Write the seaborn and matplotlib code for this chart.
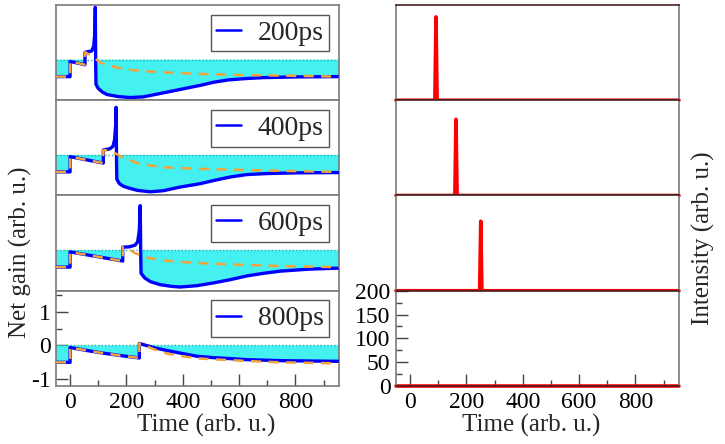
import matplotlib
matplotlib.use("Agg")
import matplotlib.pyplot as plt
from matplotlib.ticker import MultipleLocator
import numpy as np
import pandas as pd
import seaborn as sns

# ── data ──
LABELS = ["200ps", "400ps", "600ps", "800ps"]

# net gain (blue), one list per panel
GAIN_T = [
    [-50, 0, 0, 53, 53, 77, 84, 88, 89.5, 91, 92, 100, 115, 131, 170, 213, 260, 320, 391, 462, 508, 560, 620, 686, 800, 955],
    [-50, 0, 0, 118, 118, 140, 152, 158, 162, 163.5, 165, 166, 175, 190, 213, 240, 284, 330, 391, 462, 508, 570, 628, 700, 800, 955],
    [-50, 0, 0, 187, 187, 210, 231, 240, 246, 249, 251, 252, 265, 285, 320, 360, 391, 450, 508, 570, 628, 690, 746, 850, 955],
    [-50, 0, 0, 60, 120, 180, 246, 246, 300, 344, 400, 451, 508, 570, 628, 750, 955],
]
GAIN_G = [
    [-0.5, -0.5, -0.05, -0.15, 0.22, 0.26, 0.4, 0.8, 1.55, -0.2, -0.73, -0.85, -0.96, -1.03, -1.09, -1.12, -1.1, -1.0, -0.88, -0.76, -0.67, -0.6, -0.56, -0.53, -0.51, -0.5],
    [-0.5, -0.5, -0.05, -0.24, 0.15, 0.18, 0.25, 0.45, 0.9, 1.41, -0.2, -0.72, -0.85, -0.93, -0.99, -1.05, -1.09, -1.06, -0.95, -0.85, -0.76, -0.65, -0.58, -0.55, -0.53, -0.52],
    [-0.5, -0.5, -0.05, -0.32, 0.09, 0.1, 0.15, 0.25, 0.6, 1.32, -0.2, -0.68, -0.82, -0.93, -1.02, -1.07, -1.09, -1.05, -0.97, -0.87, -0.76, -0.68, -0.62, -0.56, -0.53],
    [-0.5, -0.5, -0.06, -0.15, -0.23, -0.3, -0.37, 0.06, -0.07, -0.15, -0.24, -0.32, -0.36, -0.39, -0.42, -0.45, -0.47],
]

# gain without the pulse (orange dashed)
BASE_T = [
    [-50, 0, 0, 53, 53, 70, 90, 107, 140, 178, 238, 320, 451, 600, 750, 955],
    [-50, 0, 0, 118, 118, 140, 160, 185, 210, 238, 290, 344, 451, 600, 750, 955],
    [-50, 0, 0, 187, 187, 210, 231, 255, 284, 355, 451, 600, 750, 955],
    [-50, 0, 0, 60, 120, 180, 246, 246, 300, 344, 400, 451, 508, 628, 750, 955],
]
BASE_G = [
    [-0.5, -0.5, -0.05, -0.15, 0.22, 0.15, 0.03, -0.08, -0.18, -0.25, -0.32, -0.37, -0.42, -0.45, -0.47, -0.5],
    [-0.5, -0.5, -0.05, -0.24, 0.15, 0.12, 0.05, -0.06, -0.15, -0.24, -0.32, -0.37, -0.41, -0.44, -0.47, -0.5],
    [-0.5, -0.5, -0.05, -0.32, 0.09, 0.03, -0.09, -0.16, -0.24, -0.32, -0.38, -0.43, -0.47, -0.5],
    [-0.5, -0.5, -0.06, -0.15, -0.23, -0.3, -0.37, 0.06, -0.12, -0.24, -0.32, -0.38, -0.41, -0.46, -0.5, -0.53],
]

# output pulses (right column): centre time and peak intensity, None = no pulse
PULSE_T = [92, 163, 251, None]
PULSE_I = [175, 160, 146, None]
PULSE_HALF_WIDTH = 4
T_START, T_END = -50, 955

BLUE = "#0000FF"
ORANGE = "#F2A33A"
CYAN = "#44F0F0"
RED = "#FF0000"
SPINE = "#7a7a7a"
FONT = "Liberation Serif"

sns.set_theme(style="ticks", font="serif",
              rc={"font.serif": [FONT, "DejaVu Serif"], "axes.unicode_minus": False})
plt.rcParams["font.family"] = [FONT, "DejaVu Serif"]

W, H = 725, 444
fig = plt.figure(figsize=(W / 100, H / 100), dpi=100)

top_px, panel_px = 5, 95.25
lx, rx, aw = 56 / W, 396 / W, 283 / W
ph = panel_px / H


def style_axes(ax, bottom):
    for s in ax.spines.values():
        s.set_color(SPINE)
        s.set_linewidth(1.2)
    ax.set_xlim(T_START, T_END)
    ax.xaxis.set_major_locator(MultipleLocator(200))
    ax.xaxis.set_minor_locator(MultipleLocator(100))
    ax.tick_params(which="both", direction="in", colors="#444444", labelsize=17,
                   top=False, right=False, pad=4)
    ax.tick_params(which="major", length=8.5, width=1)
    ax.tick_params(which="minor", length=4.5, width=1)
    if not bottom:
        ax.tick_params(which="both", bottom=False, left=False,
                       labelbottom=False, labelleft=False)
    ax.tick_params(labelcolor="black")
    for lbl in ax.get_xticklabels() + ax.get_yticklabels():
        lbl.set_fontfamily(FONT)


for i in range(4):
    y0 = 1 - (top_px + panel_px * (i + 1)) / H
    bottom = i == 3

    # ── left: net gain ──
    ax = fig.add_axes([lx, y0, aw, ph])
    t = np.array(GAIN_T[i], dtype=float)
    g = np.array(GAIN_G[i], dtype=float)
    ax.fill_between(t, g, 0, where=g < 0, interpolate=True, color=CYAN, lw=0, zorder=1)
    ax.axhline(0, color="#19b5b5", ls=(0, (1, 1.5)), lw=1, zorder=1.5)
    sns.lineplot(x=t, y=g, ax=ax, sort=False, estimator=None, color=BLUE, lw=2.4,
                 label=LABELS[i], zorder=3)
    sns.lineplot(x=BASE_T[i], y=BASE_G[i], ax=ax, sort=False, estimator=None,
                 color=ORANGE, lw=1.8, zorder=4)
    ax.lines[-1].set_linestyle((0, (4, 3)))
    ax.set_ylim(-1.2, 1.62)
    ax.yaxis.set_major_locator(MultipleLocator(1))
    ax.yaxis.set_minor_locator(MultipleLocator(0.5))
    style_axes(ax, bottom)
    ax.set_xlabel("")
    ax.set_ylabel("")
    leg = ax.legend(loc="upper right", frameon=True, fancybox=False,
                    prop={"family": FONT, "size": 20},
                    handlelength=0.9, handletextpad=0.6, borderpad=0.2,
                    borderaxespad=0.35, framealpha=1)
    leg.get_frame().set_edgecolor("#555555")
    leg.get_frame().set_linewidth(1)
    for h in leg.get_lines():
        h.set_linewidth(1.8)

    # ── right: intensity ──
    axr = fig.add_axes([rx, y0, aw, ph])
    if PULSE_T[i] is None:
        pt, pi = [T_START, T_END], [0, 0]
    else:
        c = PULSE_T[i]
        pt = [T_START, c - PULSE_HALF_WIDTH, c, c + PULSE_HALF_WIDTH, T_END]
        pi = [0, 0, PULSE_I[i], 0, 0]
    sns.lineplot(x=pt, y=pi, ax=axr, sort=False, estimator=None, color=RED, lw=2.6,
                 zorder=2)
    for ln in axr.lines:
        ln.set_clip_on(False)
    axr.set_ylim(0, 200)
    axr.yaxis.set_major_locator(MultipleLocator(50))
    axr.yaxis.set_minor_locator(MultipleLocator(25))
    style_axes(axr, bottom)
    axr.set_xlabel("")
    axr.set_ylabel("")
    for name, s in axr.spines.items():
        s.set_zorder(3)
        if name in ("top", "bottom"):
            s.set_color("#4a2020")

txt = dict(ha="center", va="center", fontsize=18, family=FONT)
fig.text(206 / W, 1 - 425 / H, "Time (arb. u.)", **txt)
fig.text(531 / W, 1 - 425 / H, "Time (arb. u.)", **txt)
fig.text(20 / W, 1 - 252 / H, "Net gain (arb. u.)", rotation=90, **txt)
fig.text(703 / W, 1 - 238 / H, "Intensity (arb. u.)", rotation=90, **txt)

fig.savefig("out.png", dpi=100)
plt.close(fig)
